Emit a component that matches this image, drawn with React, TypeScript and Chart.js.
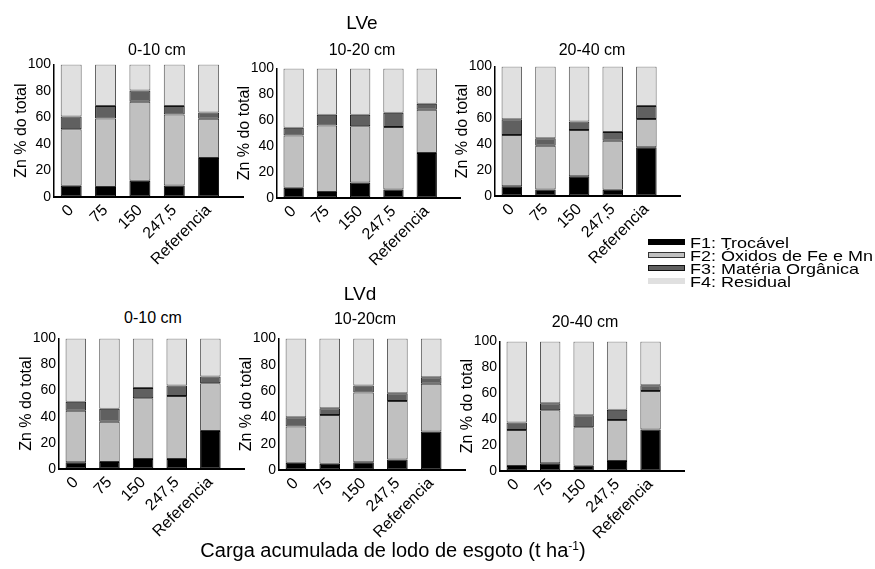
import React, { useEffect, useRef } from 'react';
import { Chart, registerables } from 'chart.js';

Chart.register(...registerables);

const FONT = '"Liberation Sans", Arial, Helvetica, sans-serif';
Chart.defaults.font.family = FONT;
Chart.defaults.color = '#000';

// Categories (accumulated sewage sludge load, t/ha)
const CATEGORIES = ['0', '75', '150', '247,5', 'Referencia'];
const SERIES_NAMES = ['F1: Trocável', 'F2: Óxidos de Fe e Mn', 'F3: Matéria Orgânica', 'F4: Residual'];
const Y_TICKS = [0, 20, 40, 60, 80, 100];

// LVe 0-10 cm
const LVE_0_10_F1 = [8.5, 7.5, 12.2, 8.7, 29.4];
const LVE_0_10_F2 = [42.5, 51.7, 59.7, 53.5, 29.6];
const LVE_0_10_F3 = [9.7, 9.5, 8.4, 6.5, 4.7];
const LVE_0_10_F4 = [39.3, 31.3, 19.7, 31.3, 36.3];
// LVe 10-20 cm
const LVE_10_20_F1 = [7.9, 4.6, 12.0, 6.6, 34.7];
const LVE_10_20_F2 = [40.3, 51.3, 43.4, 48.2, 33.4];
const LVE_10_20_F3 = [6.1, 8.4, 8.9, 11.0, 4.6];
const LVE_10_20_F4 = [45.7, 35.7, 35.7, 34.2, 27.3];
// LVe 20-40 cm
const LVE_20_40_F1 = [7.6, 5.1, 15.3, 4.8, 37.7];
const LVE_20_40_F2 = [39.5, 33.6, 35.6, 37.9, 21.8];
const LVE_20_40_F3 = [12.2, 5.8, 6.6, 6.7, 10.0];
const LVE_20_40_F4 = [40.7, 55.5, 42.5, 50.6, 30.5];
// LVd 0-10 cm
const LVD_0_10_F1 = [5.1, 5.3, 7.6, 7.6, 29.1];
const LVD_0_10_F2 = [39.5, 30.9, 46.6, 48.3, 36.5];
const LVD_0_10_F3 = [6.8, 9.9, 7.8, 8.1, 5.3];
const LVD_0_10_F4 = [48.6, 53.9, 38.0, 36.0, 29.1];
// LVd 10-20 cm
const LVD_10_20_F1 = [5.5, 4.8, 5.8, 8.0, 29.3];
const LVD_10_20_F2 = [27.5, 37.0, 53.0, 44.5, 36.2];
const LVD_10_20_F3 = [7.0, 5.2, 5.5, 5.8, 5.0];
const LVD_10_20_F4 = [60.0, 53.0, 35.7, 41.7, 29.5];
// LVd 20-40 cm
const LVD_20_40_F1 = [3.8, 5.9, 4.1, 7.7, 32.1];
const LVD_20_40_F2 = [27.8, 41.0, 29.6, 31.6, 29.6];
const LVD_20_40_F3 = [5.9, 5.4, 9.4, 7.9, 4.4];
const LVD_20_40_F4 = [62.5, 47.7, 56.9, 52.8, 33.9];

const FILLS = ['#000000', '#c0c0c0', '#606060', '#e0e0e0'];
const BORDERS = ['#000000', '#333333', '#111111', '#555555'];

const YW = 46;
const PT = 10;
const PR = 2;
const XH = 100;

type PanelProps = {
  series: number[][];
  ax: number;
  ar: number;
  top: number;
  bottom: number;
};

function Panel({ series, ax, ar, top, bottom }: PanelProps) {
  const ref = useRef<HTMLCanvasElement | null>(null);
  const left = Math.round(ax - YW);
  const cTop = Math.round(top - PT);
  const width = Math.round(ar + PR - left);
  const height = Math.round(bottom - top + PT + XH);

  useEffect(() => {
    if (!ref.current) return;
    const chart = new Chart(ref.current, {
      type: 'bar',
      data: {
        datasets: series.map((arr, k) => ({
          label: SERIES_NAMES[k],
          data: arr.map((v, i) => ({ x: i, y: v })),
          backgroundColor: FILLS[k],
          borderColor: BORDERS[k],
          borderWidth: 1,
          borderSkipped: false,
          barPercentage: 0.61,
          categoryPercentage: 1,
          stack: 's',
        })),
      },
      options: {
        animation: false,
        responsive: false,
        devicePixelRatio: 1,
        layout: { padding: { top: PT, right: PR, left: 0, bottom: 0 } },
        plugins: {
          legend: { display: false },
          tooltip: { enabled: false },
          title: { display: false },
        },
        scales: {
          x: {
            type: 'linear',
            min: -0.5,
            max: 5,
            offset: false,
            grid: { display: true, drawOnChartArea: false, drawTicks: false, offset: false },
            border: { display: true, color: '#000', width: 2, z: 1 },
            afterBuildTicks: (s: any) => {
              s.ticks = CATEGORIES.map((_, i) => ({ value: i }));
            },
            afterFit: (s: any) => {
              s.height = XH;
            },
            ticks: {
              autoSkip: false,
              minRotation: 45,
              maxRotation: 45,
              color: '#000',
              padding: 4,
              font: { size: 16, family: FONT },
              callback: (v: any) => CATEGORIES[v as number] ?? '',
            },
          },
          y: {
            type: 'linear',
            min: 0,
            max: 100,
            stacked: true,
            grid: { display: true, drawOnChartArea: false, drawTicks: false },
            border: { display: true, color: '#000', width: 1.5, z: 1 },
            afterBuildTicks: (s: any) => {
              s.ticks = Y_TICKS.map((v) => ({ value: v }));
            },
            afterFit: (s: any) => {
              s.width = YW;
            },
            ticks: { color: '#000', padding: 3, font: { size: 14, family: FONT } },
            title: {
              display: true,
              text: 'Zn % do total',
              color: '#000',
              font: { size: 16, family: FONT },
              padding: { top: 4, bottom: 0 },
            },
          },
        },
      } as any,
    });
    return () => chart.destroy();
  }, []);

  return (
    <canvas
      ref={ref}
      width={width}
      height={height}
      style={{ position: 'absolute', left, top: cTop, width, height }}
    />
  );
}

const textStyle = (x: number, y: number, size: number): React.CSSProperties => ({
  position: 'absolute',
  left: x,
  top: y,
  transform: 'translate(-50%, -50%)',
  fontFamily: FONT,
  fontSize: size,
  lineHeight: 1,
  whiteSpace: 'nowrap',
  color: '#000',
});

export default function App() {
  const legendRows = [242, 255, 268, 281];
  return (
    <div
      style={{
        position: 'absolute',
        left: 0,
        top: 0,
        width: 875,
        height: 569,
        background: '#fff',
        overflow: 'hidden',
      }}
    >
      <Panel series={[LVE_0_10_F1, LVE_0_10_F2, LVE_0_10_F3, LVE_0_10_F4]} ax={54} ar={243} top={63.3} bottom={197.3} />
      <Panel series={[LVE_10_20_F1, LVE_10_20_F2, LVE_10_20_F3, LVE_10_20_F4]} ax={277.4} ar={460} top={66.7} bottom={197.3} />
      <Panel series={[LVE_20_40_F1, LVE_20_40_F2, LVE_20_40_F3, LVE_20_40_F4]} ax={495.3} ar={680} top={65} bottom={196} />
      <Panel series={[LVD_0_10_F1, LVD_0_10_F2, LVD_0_10_F3, LVD_0_10_F4]} ax={58.6} ar={244} top={337.3} bottom={469} />
      <Panel series={[LVD_10_20_F1, LVD_10_20_F2, LVD_10_20_F3, LVD_10_20_F4]} ax={279.2} ar={464.5} top={337.3} bottom={470.7} />
      <Panel series={[LVD_20_40_F1, LVD_20_40_F2, LVD_20_40_F3, LVD_20_40_F4]} ax={499.7} ar={684} top={340} bottom={470.7} />

      <div style={textStyle(362, 22, 19)}>LVe</div>
      <div style={textStyle(157, 50, 16)}>0-10 cm</div>
      <div style={textStyle(362, 50, 16)}>10-20 cm</div>
      <div style={textStyle(592, 50, 16)}>20-40 cm</div>

      <div style={textStyle(360, 293, 19)}>LVd</div>
      <div style={textStyle(153, 318, 16)}>0-10 cm</div>
      <div style={textStyle(365, 319, 16)}>10-20cm</div>
      <div style={textStyle(585, 322, 16)}>20-40 cm</div>

      {SERIES_NAMES.map((name, k) => (
        <React.Fragment key={name}>
          <div
            style={{
              position: 'absolute',
              left: 648,
              top: legendRows[k] - 3,
              width: k === 3 ? 37 : 35,
              height: k === 3 ? 6 : 4,
              background: FILLS[k],
              border: k === 3 ? 'none' : `1px solid ${BORDERS[k]}`,
            }}
          />
          <div
            style={{
              position: 'absolute',
              left: 690,
              top: legendRows[k],
              transform: 'translateY(-50%) scaleX(1.2)',
              transformOrigin: 'left center',
              fontFamily: FONT,
              fontSize: 15,
              lineHeight: 1,
              whiteSpace: 'nowrap',
              color: '#000',
            }}
          >
            {name}
          </div>
        </React.Fragment>
      ))}

      <div style={textStyle(393, 550, 20)}>
        Carga acumulada de lodo de esgoto (t ha<sup style={{ fontSize: 12, verticalAlign: 'top', lineHeight: 1 }}>-1</sup>)
      </div>
    </div>
  );
}
